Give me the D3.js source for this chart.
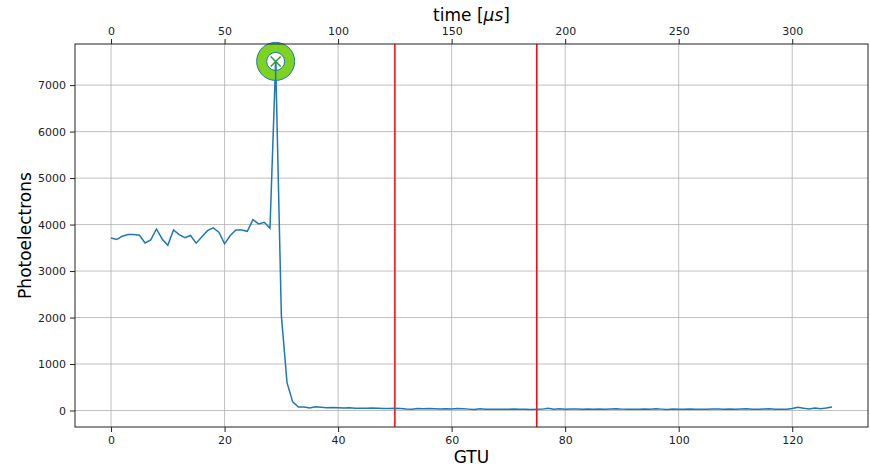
<!DOCTYPE html>
<html>
<head>
<meta charset="utf-8">
<script src="https://cdn.jsdelivr.net/npm/d3@7"></script>
<style>
body { margin: 0; background: #fff; }
text { font-family: "DejaVu Sans", sans-serif; }
</style>
</head>
<body>
<script>
// photoelectron counts per GTU
var counts = [3710, 3680, 3750, 3785, 3785, 3770, 3605, 3670, 3905, 3690,
    3555, 3885, 3785, 3720, 3765, 3600, 3740, 3870, 3930, 3835,
    3585, 3765, 3885, 3885, 3855, 4105, 4015, 4050, 3920, 7510,
    2050, 600, 185, 75,
    75, 55, 80, 70, 60, 65, 60, 55, 60, 50,
    50, 50, 55, 50, 45, 45, 50, 45, 35, 30,
    45, 40, 45, 40, 35, 40, 35, 45, 40, 30,
    20, 40, 30, 30, 25, 30, 25, 35, 30, 25,
    20, 25, 30, 50, 30, 40, 25, 35, 35, 30,
    35, 30, 35, 25, 35, 40, 30, 25, 30, 25,
    35, 25, 40, 30, 20, 35, 30, 25, 35, 30,
    25, 30, 35, 35, 30, 35, 30, 35, 40, 25,
    30, 35, 40, 25, 30, 30, 45, 70, 50, 35,
    55, 40, 55, 75];
var gtu = counts.map(function(d, i) { return i; });
var peakGtu = 29;
var redLines = [50, 75];
var xTicks = [0, 20, 40, 60, 80, 100, 120];
var timeTicks = [0, 50, 100, 150, 200, 250, 300];
var yTicks = [0, 1000, 2000, 3000, 4000, 5000, 6000, 7000];
var usPerGtu = 2.5;

var w = 870, h = 471;
var m = {left: 75, right: 2, top: 44, bottom: 44};

var svg = d3.select("body").append("svg").attr("width", w).attr("height", h);

var xMin = d3.min(gtu), xMax = d3.max(gtu);
var xPad = (xMax - xMin) * 0.05;
var x = d3.scaleLinear().domain([xMin - xPad, xMax + xPad]).range([m.left, w - m.right]);
var t = d3.scaleLinear().domain([(xMin - xPad) * usPerGtu, (xMax + xPad) * usPerGtu]).range([m.left, w - m.right]);

var yMin = d3.min(counts), yMax = d3.max(counts);
var yPad = (yMax - yMin) * 0.05;
var y = d3.scaleLinear().domain([yMin - yPad, yMax + yPad]).range([h - m.bottom, m.top]);

// grid
svg.append("g").selectAll("line").data(xTicks).enter().append("line")
    .attr("x1", function(d) { return x(d); }).attr("x2", function(d) { return x(d); })
    .attr("y1", m.top).attr("y2", h - m.bottom)
    .attr("stroke", "#b0b0b0").attr("stroke-width", 0.8);
svg.append("g").selectAll("line").data(yTicks).enter().append("line")
    .attr("y1", function(d) { return y(d); }).attr("y2", function(d) { return y(d); })
    .attr("x1", m.left).attr("x2", w - m.right)
    .attr("stroke", "#b0b0b0").attr("stroke-width", 0.8);

// red markers
svg.append("g").selectAll("line").data(redLines).enter().append("line")
    .attr("x1", function(d) { return x(d); }).attr("x2", function(d) { return x(d); })
    .attr("y1", m.top).attr("y2", h - m.bottom)
    .attr("stroke", "#ff0000").attr("stroke-width", 1.5);

var line = d3.line()
    .x(function(d, i) { return x(gtu[i]); })
    .y(function(d) { return y(d); });

svg.append("path").datum(counts)
    .attr("d", line)
    .attr("fill", "none")
    .attr("stroke", "#1f77b4")
    .attr("stroke-width", 1.5);

// peak marker
var px = x(peakGtu), py = y(counts[peakGtu]);
svg.append("circle").attr("cx", px).attr("cy", py).attr("r", 14)
    .attr("fill", "none").attr("stroke", "#7ed321").attr("stroke-width", 10);
svg.append("circle").attr("cx", px).attr("cy", py).attr("r", 19)
    .attr("fill", "none").attr("stroke", "#1f77b4").attr("stroke-width", 1);
svg.append("circle").attr("cx", px).attr("cy", py).attr("r", 9)
    .attr("fill", "none").attr("stroke", "#1f77b4").attr("stroke-width", 1);
svg.append("path")
    .attr("d", "M" + (px - 5) + "," + (py - 5) + "L" + (px + 5) + "," + (py + 5) +
               "M" + (px - 5) + "," + (py + 5) + "L" + (px + 5) + "," + (py - 5))
    .attr("stroke", "#2ca02c").attr("stroke-width", 1.5);
svg.append("line").attr("x1", px).attr("x2", px).attr("y1", py).attr("y2", py + 20)
    .attr("stroke", "#1f77b4").attr("stroke-width", 1.5);

// axes
var fontSize = "11px";
var fmt = d3.format("d");
var axBottom = svg.append("g").attr("transform", "translate(0," + (h - m.bottom) + ")")
    .call(d3.axisBottom(x).tickValues(xTicks).tickFormat(fmt).tickSize(5).tickPadding(4));
var axTop = svg.append("g").attr("transform", "translate(0," + m.top + ")")
    .call(d3.axisTop(t).tickValues(timeTicks).tickFormat(fmt).tickSize(5).tickPadding(4));
var axLeft = svg.append("g").attr("transform", "translate(" + m.left + ",0)")
    .call(d3.axisLeft(y).tickValues(yTicks).tickFormat(fmt).tickSize(5).tickPadding(4));
[axBottom, axTop, axLeft].forEach(function(g) {
    g.selectAll("text").attr("font-size", fontSize).attr("fill", "#222")
        .style("font-family", "DejaVu Sans");
    g.select(".domain").remove();
    g.selectAll("line").attr("stroke", "#222");
});

svg.append("rect").attr("x", m.left).attr("y", m.top)
    .attr("width", w - m.right - m.left).attr("height", h - m.bottom - m.top)
    .attr("fill", "none").attr("stroke", "#222").attr("stroke-width", 1);

svg.append("text").attr("x", (m.left + w - m.right) / 2).attr("y", 463)
    .attr("text-anchor", "middle").attr("font-size", "17px").text("GTU");
svg.append("text").attr("transform", "translate(31," + ((m.top + h - m.bottom) / 2) + ") rotate(-90)")
    .attr("text-anchor", "middle").attr("font-size", "17px").text("Photoelectrons");
var tl = svg.append("text").attr("x", (m.left + w - m.right) / 2).attr("y", 21)
    .attr("text-anchor", "middle").attr("font-size", "17px");
tl.append("tspan").text("time [");
tl.append("tspan").attr("font-style", "italic").text("μs");
tl.append("tspan").text("]");
</script>
</body>
</html>
